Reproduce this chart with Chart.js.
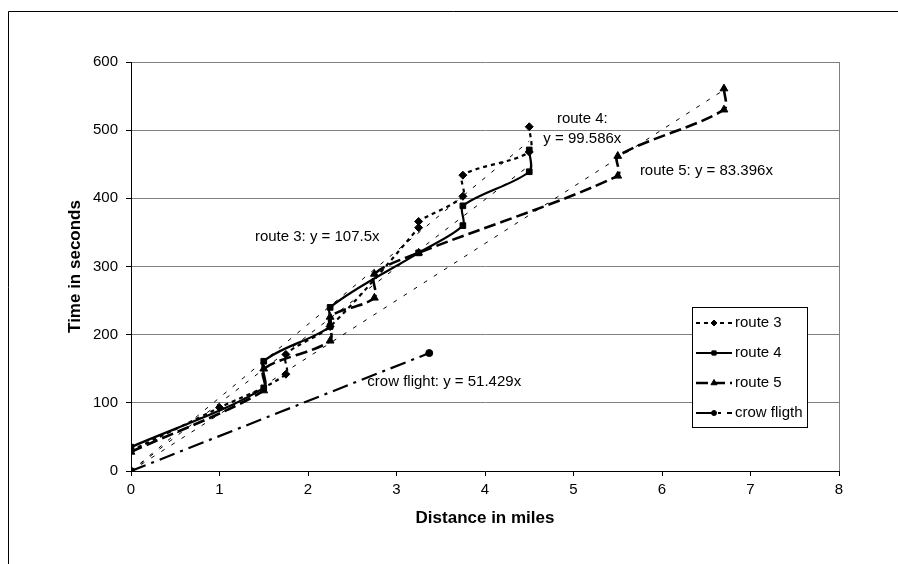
<!DOCTYPE html>
<html>
<head>
<meta charset="utf-8">
<script src="https://cdn.jsdelivr.net/npm/chart.js@4.4.0/dist/chart.umd.min.js"></script>
<style>
  html, body { margin: 0; padding: 0; background: #fff; }
  #wrap { width: 898px; height: 564px; position: relative; }
</style>
</head>
<body>
<div id="wrap"><canvas id="routeChart"></canvas></div>
<script>
// values (distance in miles, time in seconds)
const route3X = [0, 1, 1.75, 1.75, 2.25, 3.25, 3.25, 3.75, 3.75, 4.5, 4.5];
const route3Y = [30, 93, 142, 171, 212, 357, 366, 403, 434, 468, 505];

const route4X = [0, 1.5, 1.5, 2.25, 2.25, 3.25, 3.75, 3.75, 4.5, 4.5];
const route4Y = [35, 122, 161, 212, 240, 320, 360, 389, 439, 471];

const route5X = [0, 1.5, 1.5, 2.25, 2.25, 2.75, 2.75, 3.25, 5.5, 5.5, 6.7, 6.7];
const route5Y = [28, 118, 150, 191, 226, 254, 289, 320, 433, 462, 530, 561];

const crowX = [0, 3.37];
const crowY = [0, 173];

// linear trend lines through the origin (end points over each series' x range)
const trend3X = [0, 4.5];
const trend3Y = [0, 484];
const trend4X = [0, 4.5];
const trend4Y = [0, 448];
const trend5X = [0, 6.7];
const trend5Y = [0, 559];

const xTicks = [0, 1, 2, 3, 4, 5, 6, 7, 8];
const yTicks = [0, 100, 200, 300, 400, 500, 600];

const seriesNames = ['route 3', 'route 4', 'route 5', 'crow fligth'];

const FONT = "'Liberation Sans', Arial, sans-serif";

function pts(xs, ys) {
  return xs.map((x, i) => ({ x, y: ys[i] }));
}

const seriesStyle = [
  { dash: [4, 4], width: 2.2, point: 'rectRot', radius: 4 },
  { dash: [], width: 2.2, point: 'rect', radius: 4 },
  { dash: [12, 5], width: 2.6, point: 'triangle', radius: 4.5 },
  { dash: [16, 6, 3, 6], width: 2.2, point: 'circle', radius: 3.5 },
];

const seriesData = [
  pts(route3X, route3Y),
  pts(route4X, route4Y),
  pts(route5X, route5Y),
  pts(crowX, crowY),
];

const datasets = seriesData.map((data, i) => ({
  label: seriesNames[i],
  data,
  showLine: true,
  tension: 0.3,
  borderColor: '#000',
  backgroundColor: '#000',
  borderWidth: seriesStyle[i].width,
  borderDash: seriesStyle[i].dash,
  pointStyle: seriesStyle[i].point,
  pointRadius: seriesStyle[i].radius,
  pointBorderWidth: 1,
  pointHoverRadius: seriesStyle[i].radius,
}));

[pts(trend3X, trend3Y), pts(trend4X, trend4Y), pts(trend5X, trend5Y)].forEach(data => {
  datasets.push({
    label: 'trend',
    data,
    showLine: true,
    borderColor: '#000',
    borderWidth: 1,
    borderDash: [4, 8],
    pointRadius: 0,
  });
});

// trend equations, anchored in data coordinates
const eqLabels = [
  { text: 'route 3: y = 107.5x', x: 1.40, y: 343, align: 'left' },
  { text: 'route 4:', x: 5.10, y: 516, align: 'center' },
  { text: 'y = 99.586x', x: 5.10, y: 487, align: 'center' },
  { text: 'route 5: y = 83.396x', x: 5.75, y: 441, align: 'left' },
  { text: 'crow flight: y = 51.429x', x: 2.67, y: 131, align: 'left' },
];

const decorPlugin = {
  id: 'decor',
  beforeDatasetsDraw(chart) {
    const { ctx, chartArea: a } = chart;
    ctx.save();
    ctx.strokeStyle = '#808080';
    ctx.lineWidth = 1;
    ctx.beginPath();
    ctx.moveTo(Math.round(a.right) + 0.5, a.top);
    ctx.lineTo(Math.round(a.right) + 0.5, a.bottom);
    ctx.stroke();
    ctx.restore();
  },
  afterDraw(chart) {
    const { ctx, scales } = chart;
    ctx.save();
    // outer chart border (cropped at right and bottom)
    ctx.strokeStyle = '#000';
    ctx.lineWidth = 1;
    ctx.beginPath();
    ctx.moveTo(8.5, 564);
    ctx.lineTo(8.5, 11.5);
    ctx.lineTo(898, 11.5);
    ctx.stroke();

    // equation labels
    ctx.fillStyle = '#000';
    ctx.font = '15px ' + FONT;
    ctx.textBaseline = 'middle';
    eqLabels.forEach(l => {
      ctx.textAlign = l.align;
      ctx.fillText(l.text, scales.x.getPixelForValue(l.x), scales.y.getPixelForValue(l.y));
    });

    // legend box
    const bx = 692.5, by = 307.5, bw = 115, bh = 120;
    ctx.fillStyle = '#fff';
    ctx.fillRect(bx, by, bw, bh);
    ctx.strokeStyle = '#000';
    ctx.strokeRect(bx, by, bw, bh);
    seriesNames.forEach((name, i) => {
      const st = seriesStyle[i];
      const ly = 323 + i * 30;
      ctx.save();
      ctx.strokeStyle = '#000';
      ctx.lineWidth = st.width;
      ctx.setLineDash(st.dash);
      ctx.beginPath();
      ctx.moveTo(696, ly);
      ctx.lineTo(732, ly);
      ctx.stroke();
      ctx.restore();
      ctx.fillStyle = '#000';
      ctx.strokeStyle = '#000';
      ctx.lineWidth = 1;
      Chart.helpers.drawPoint(ctx, {
        pointStyle: st.point, radius: st.radius - 1, borderWidth: 1,
      }, 714, ly);
      ctx.textAlign = 'left';
      ctx.fillText(name, 735, ly);
    });
    ctx.restore();
  },
};

new Chart(document.getElementById('routeChart'), {
  type: 'scatter',
  data: { datasets },
  plugins: [decorPlugin],
  options: {
    responsive: true,
    maintainAspectRatio: false,
    animation: false,
    layout: { padding: { top: 62, right: 59, left: 0, bottom: 0 } },
    plugins: {
      legend: { display: false },
      tooltip: { enabled: false },
    },
    scales: {
      x: {
        type: 'linear',
        min: 0,
        max: 8,
        afterBuildTicks: s => { s.ticks = xTicks.map(v => ({ value: v })); },
        afterFit: s => { s.height = 93; },
        ticks: { color: '#000', font: { family: FONT, size: 15 }, padding: 5 },
        grid: { drawOnChartArea: false, tickLength: 5, tickColor: '#000' },
        border: { color: '#000', width: 1 },
        title: {
          display: true,
          text: 'Distance in miles',
          color: '#000',
          font: { family: FONT, size: 17, weight: 'bold' },
          padding: { top: 0, bottom: 35 },
        },
      },
      y: {
        type: 'linear',
        min: 0,
        max: 600,
        afterBuildTicks: s => { s.ticks = yTicks.map(v => ({ value: v })); },
        afterFit: s => { s.width = 131; },
        ticks: { color: '#000', font: { family: FONT, size: 15 }, padding: 8 },
        grid: { color: '#808080', lineWidth: 1, tickLength: 5, tickColor: '#000' },
        border: { color: '#000', width: 1 },
        title: {
          display: true,
          text: 'Time in seconds',
          color: '#000',
          font: { family: FONT, size: 17, weight: 'bold' },
          padding: { top: 65, bottom: 0 },
        },
      },
    },
  },
});
</script>
</body>
</html>
